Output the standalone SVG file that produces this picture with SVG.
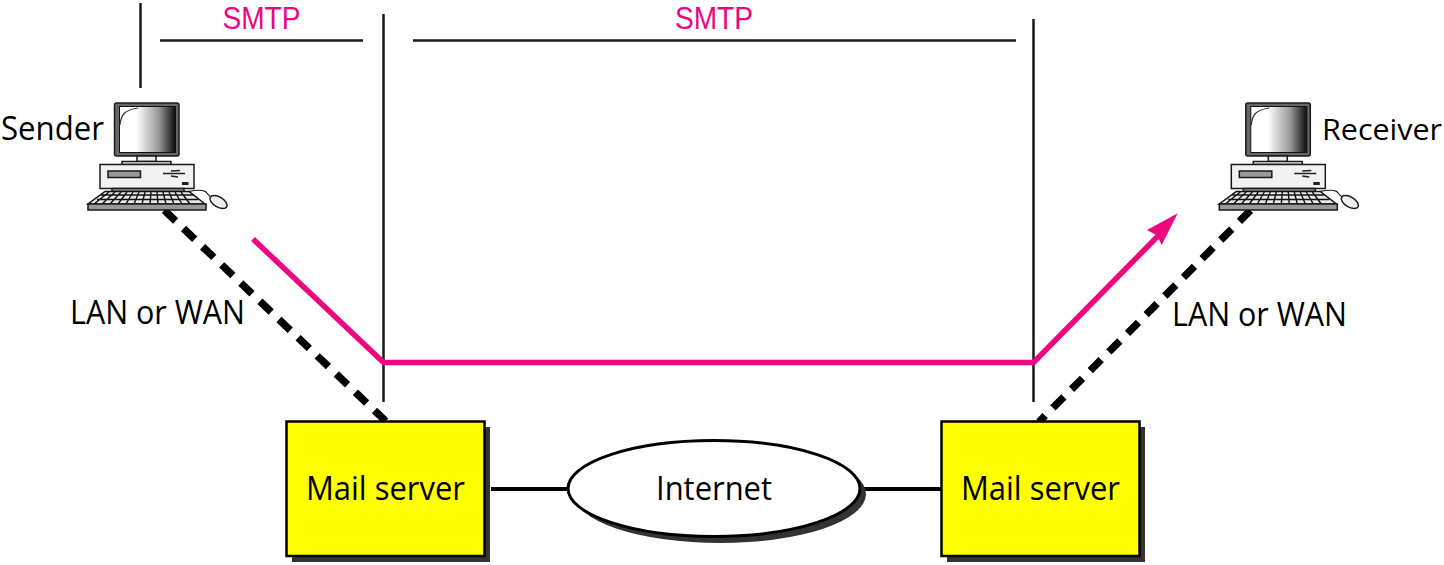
<svg xmlns="http://www.w3.org/2000/svg" width="1444" height="565" viewBox="0 0 1444 565">
<style>
text{font-family:"Open Sans","Noto Sans","Liberation Sans",sans-serif;font-size:32px;fill:#000}
text.smtp{font-family:"Liberation Sans","Open Sans",sans-serif;font-size:32px;fill:#ee0580}
.thin{stroke:#1a1a1a;stroke-width:2.500;fill:none}
.dash{stroke:#000;stroke-width:7.500;stroke-dasharray:15.500 10.880;fill:none}
.link{stroke:#000;stroke-width:4;fill:none}
.pink{stroke:#ee0580;stroke-width:5.500;fill:none;stroke-linejoin:miter}
.box{fill:#ff0;stroke:#000;stroke-width:2.500}
.shadow{fill:#333}
.pc{stroke:#1a1a1a;stroke-width:1.500}
</style>
<defs>
<linearGradient id="screen" x1="0" x2="1" y1="0" y2="0"><stop offset="0" stop-color="#fff"/><stop offset=".3" stop-color="#fff"/><stop offset=".7" stop-color="#999"/><stop offset="1" stop-color="#0d0d0d"/></linearGradient>
<g id="computer">
<path d="M188 191.700C196 190 203 189 206 192C208 195 209 196 212 197.500" fill="none" stroke="#1a1a1a" stroke-width="1.200"/>
<ellipse cx="218.500" cy="202" rx="9.500" ry="5" transform="rotate(30 218.500 202)" fill="#eee" class="pc"/>
<rect x="114.500" y="103" width="64.500" height="53" rx="2" fill="#666" class="pc"/>
<rect x="119.500" y="106.500" width="56" height="46" fill="url(#screen)" stroke="#111"/>
<path d="M120 125C121 115 124 110 138 108" fill="none" stroke="#333" stroke-width="1.200"/>
<rect x="137" y="156" width="19" height="5.500" fill="#eee" class="pc"/>
<rect x="122" y="161.500" width="49" height="3" fill="#eee" class="pc"/>
<rect x="100" y="164.500" width="94" height="24" fill="#f2f2f2" class="pc"/>
<rect x="108" y="171" width="32.500" height="6.500" fill="#999" class="pc"/>
<path d="M163 173.500H185M171 171L180 170.500M171 176L178 177" stroke="#222" stroke-width="1.500" fill="none"/>
<rect x="182" y="182" width="6.500" height="3" fill="#222"/>
<rect x="112" y="188.500" width="72" height="3" fill="#999" class="pc"/>
<path d="M105 191.500H189L205 204H88Z" fill="#e8e8e8" stroke="#111" stroke-width="1.500"/>
<path d="M101 195H193M97 199.500H198M109 192L94 204M115 192L102 204M121 192L110 204M127 192L118 204M133 192L126 204M139 192L134 204M145 192L142 204M151 192L150 204M157 192L158 204M163 192L166 204M169 192L174 204M175 192L182 204M181 192L190 204" stroke="#111" stroke-width="1.400" fill="none"/>
<rect x="88" y="204" width="118" height="6" fill="#999" class="pc"/>
</g>
</defs>
<g id="connectors">
<path class="thin" d="M140.500 3V88M383.500 14V402M1033.500 19V402M160 40.500H363M413 40.500H1016"/>
<path class="dash" d="M164.400 210.300L388 423.300"/>
<path class="dash" d="M1250.400 210.400L1039 421.800"/>
<path class="pink" d="M253 239L383.500 362.500H1033.500L1158 236"/>
<path d="M1177.700 213.300L1161.700 245L1157 235.500L1147 230Z" fill="#ee0580"/>
<path class="link" d="M491 489H570M860 489H942"/>
</g>
<g id="smtp-left"><text class="smtp" x="222.500" y="29" textLength="78" lengthAdjust="spacingAndGlyphs">SMTP</text></g>
<g id="smtp-right"><text class="smtp" x="675" y="29" textLength="78" lengthAdjust="spacingAndGlyphs">SMTP</text></g>
<g id="sender"><use href="#computer"/><text x="1" y="140" textLength="103" lengthAdjust="spacingAndGlyphs">Sender</text></g>
<g id="receiver"><use href="#computer" x="1131.300"/><text x="1322" y="140" style="font-size:30px" textLength="120" lengthAdjust="spacingAndGlyphs">Receiver</text></g>
<g id="lan-left"><text x="70" y="324" textLength="175" lengthAdjust="spacingAndGlyphs">LAN or WAN</text></g>
<g id="lan-right"><text x="1172" y="326" textLength="175" lengthAdjust="spacingAndGlyphs">LAN or WAN</text></g>
<g id="mail-server-left"><rect class="shadow" x="292" y="427" width="198" height="135"/><rect class="box" x="286.500" y="421.500" width="198" height="134.500"/><text x="306" y="500" textLength="159" lengthAdjust="spacingAndGlyphs">Mail server</text></g>
<g id="mail-server-right"><rect class="shadow" x="947" y="427" width="198" height="135"/><rect class="box" x="941.500" y="421.500" width="198" height="134.500"/><text x="961" y="500" textLength="159" lengthAdjust="spacingAndGlyphs">Mail server</text></g>
<g id="internet"><ellipse class="shadow" cx="720" cy="494" rx="146" ry="49"/><ellipse cx="714" cy="488.500" rx="146" ry="48" fill="#fff" stroke="#000" stroke-width="3"/><text x="656" y="500" textLength="116" lengthAdjust="spacingAndGlyphs">Internet</text></g>
</svg>
